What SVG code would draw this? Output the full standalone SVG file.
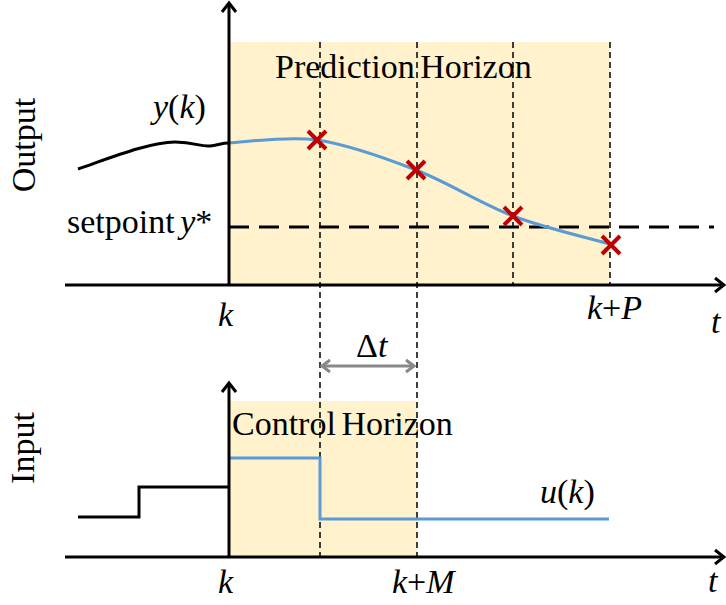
<svg xmlns="http://www.w3.org/2000/svg" width="726" height="605" viewBox="0 0 726 605">
<style>
.t{font-family:"Liberation Serif","Times New Roman",serif;font-size:34px;fill:#000}
.ws{word-spacing:-3px}
.i{font-style:italic}
.ax{stroke:#000;stroke-width:3;fill:none}
.vd{stroke:#000;stroke-width:1.5;stroke-dasharray:6 4;fill:none}
.sp{stroke:#000;stroke-width:3;stroke-dasharray:20 10;fill:none}
.bl{stroke:#5B9BD5;stroke-width:3;fill:none}
.blk{stroke:#000;stroke-width:3;fill:none}
.x{stroke:#C00000;stroke-width:4;fill:none}
.shade{fill:#FFF2CC}
.gr{stroke:#888;stroke-width:3;fill:none}
</style>
<rect width="726" height="605" fill="#fff"/>
<g id="regions">
<rect class="shade" x="229" y="42" width="381" height="243"/>
<rect class="shade" x="229" y="401" width="188" height="156"/>
</g>
<g id="connectors">
<line class="vd" x1="320" y1="42" x2="320" y2="557"/>
<line class="vd" x1="417" y1="42" x2="417" y2="557"/>
<line class="vd" x1="513" y1="42" x2="513" y2="285"/>
<line class="vd" x1="610" y1="42" x2="610" y2="285"/>
<line class="sp" x1="229" y1="227" x2="714" y2="227"/>
<path class="blk" d="M78,169 C110,158 150,142 175,142 C195,142 200,147 210,146 C218,145 222,143 229,143"/>
<path class="bl" d="M229,143 C243.7,142.5 285.8,135.5 317,140 C348.2,144.5 383.3,157.3 416,170 C448.7,182.7 480.7,203.7 513,216 C545.3,228.3 593.8,239.3 610,244"/>
<path class="blk" d="M78,517 H139 V487 H229"/>
<path class="bl" d="M229,458 H320 V519 H609"/>
<g id="axes">
<line class="ax" x1="65" y1="285" x2="724" y2="285"/>
<polyline class="ax" points="715,278 724,285 715,292"/>
<line class="ax" x1="229" y1="285" x2="229" y2="3"/>
<polyline class="ax" points="222,12 229,3 236,12"/>
<line class="ax" x1="65" y1="557" x2="724" y2="557"/>
<polyline class="ax" points="715,550 724,557 715,564"/>
<line class="ax" x1="229" y1="557" x2="229" y2="383"/>
<polyline class="ax" points="222,392 229,383 236,392"/>
</g>
<g id="dt-arrow">
<line class="gr" x1="322" y1="366" x2="414" y2="366"/>
<polyline class="gr" points="330,360 322,366 330,372"/>
<polyline class="gr" points="406,360 414,366 406,372"/>
</g>
</g>
<g id="markers">
<path class="x" d="M308,131 L326,149 M326,131 L308,149"/>
<path class="x" d="M407,161 L425,179 M425,161 L407,179"/>
<path class="x" d="M504,207 L522,225 M522,207 L504,225"/>
<path class="x" d="M602,236 L620,254 M620,236 L602,254"/>
</g>
<g id="labels">
<text class="t ws" x="275" y="78">Prediction Horizon</text>
<text class="t ws" x="232" y="435">Control Horizon</text>
<text class="t" transform="translate(35,145) rotate(-90)" text-anchor="middle">Output</text>
<text class="t" transform="translate(34,448) rotate(-90)" text-anchor="middle">Input</text>
<text class="t" x="153" y="118"><tspan class="i">y</tspan>(<tspan class="i">k</tspan>)</text>
<text class="t ws" x="67" y="233">setpoint <tspan class="i">y</tspan>*</text>
<text class="t i" x="218" y="326">k</text>
<text class="t" x="587" y="319"><tspan class="i">k</tspan>+<tspan class="i">P</tspan></text>
<text class="t i" x="711" y="333">t</text>
<text class="t" x="356" y="357">Δ<tspan class="i">t</tspan></text>
<text class="t" x="540" y="503"><tspan class="i">u</tspan>(<tspan class="i">k</tspan>)</text>
<text class="t i" x="218" y="593">k</text>
<text class="t" x="392" y="593"><tspan class="i">k</tspan>+<tspan class="i">M</tspan></text>
<text class="t i" x="708" y="592">t</text>
</g>
</svg>
